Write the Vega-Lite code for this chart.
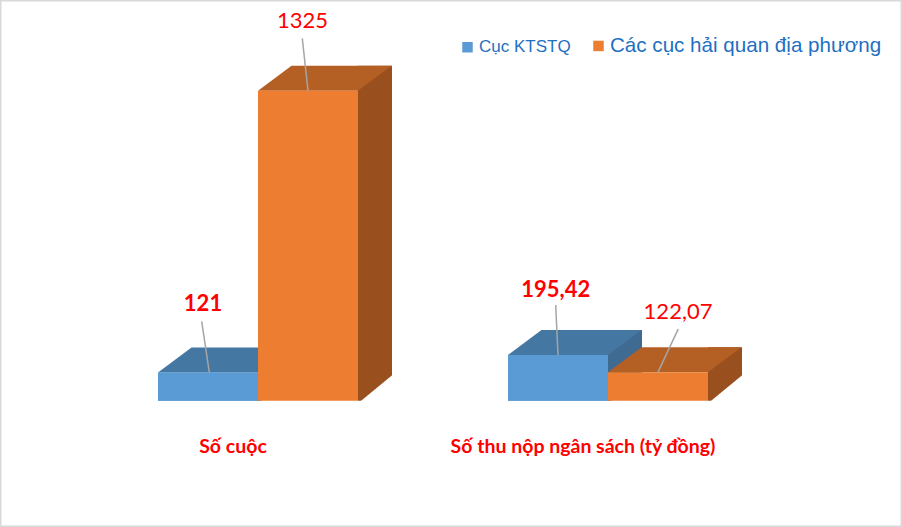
{
  "$schema": "https://vega.github.io/schema/vega-lite/v6.json",
  "width": 902,
  "height": 527,
  "autosize": "none",
  "padding": 0,
  "background": "white",
  "config": {
    "view": {"stroke": "#D9D9D9", "strokeWidth": 3},
    "font": "Lato"
  },
  "data": {
    "values": [
      {"category": "Số cuộc", "series": "Cục KTSTQ", "value": 121, "label": "121"},
      {"category": "Số cuộc", "series": "Các cục hải quan địa phương", "value": 1325, "label": "1325"},
      {"category": "Số thu nộp ngân sách (tỷ đồng)", "series": "Cục KTSTQ", "value": 195.42, "label": "195,42"},
      {"category": "Số thu nộp ngân sách (tỷ đồng)", "series": "Các cục hải quan địa phương", "value": 122.07, "label": "122,07"}
    ]
  },
  "encoding": {
    "x": {
      "field": "category", "type": "nominal", "sort": null,
      "scale": {"domain": ["Số cuộc", "Số thu nộp ngân sách (tỷ đồng)"], "paddingInner": 0.428571, "paddingOuter": 0.502857, "align": 0.44886},
      "axis": {"title": null, "orient": "bottom", "offset": -81, "domain": false, "ticks": false, "labelPadding": 0, "labelBaseline": "middle", "labelAngle": 0, "labelOffset": -25, "labelLimit": 500, "labelFont": "Lato", "labelFontSize": 19.5, "labelFontWeight": "bold", "labelColor": "#FF0000", "zindex": 1}
    },
    "xOffset": {
      "field": "series", "type": "nominal",
      "scale": {"type": "band", "domain": ["Cục KTSTQ", "Các cục hải quan địa phương"], "paddingInner": 0, "paddingOuter": 0}
    },
    "y": {
      "field": "value", "type": "quantitative",
      "scale": {"domain": [-539.8, 1712.7], "zero": false, "nice": false},
      "axis": null
    }
  },
  "resolve": {"scale": {"xOffset": "independent"}},
  "layer": [
    {
      "transform": [{"filter": "datum.series === 'Cục KTSTQ'"}],
      "mark": {"type": "bar", "width": 34, "yOffset": -25, "y2Offset": 0, "color": "#3F6A91"},
      "encoding": {
        "y2": {"datum": 0},
        "xOffset": {"field": "series", "type": "nominal", "scale": {"type": "band", "domain": ["Cục KTSTQ", "Các cục hải quan địa phương"], "range": [67, 267], "paddingInner": 0, "paddingOuter": 0}}
      }
    },
    {
      "transform": [{"filter": "datum.series === 'Cục KTSTQ'"}],
      "mark": {"type": "point", "shape": "M0.495,0.03 L0.87,0.03 L0.87,-0.27 L0.835,-0.25 Z", "size": 40000, "filled": true, "color": "white", "opacity": 1, "strokeWidth": 0},
      "encoding": {"y": {"datum": 0}}
    },
    {
      "transform": [{"filter": "datum.series === 'Cục KTSTQ'"}],
      "mark": {"type": "point", "shape": "M-0.5,0 L0.5,0 L0.835,-0.25 L-0.165,-0.25 Z", "size": 40000, "filled": true, "color": "#4577A3", "opacity": 1, "strokeWidth": 0}
    },
    {
      "transform": [{"filter": "datum.series === 'Cục KTSTQ'"}],
      "mark": {"type": "bar", "fill": "#5B9BD5"},
      "encoding": {"y2": {"datum": 0}}
    },
    {
      "transform": [{"filter": "datum.series === 'Các cục hải quan địa phương'"}],
      "mark": {"type": "bar", "width": 34, "yOffset": -25, "y2Offset": 0, "color": "#9A4F1E"},
      "encoding": {
        "y2": {"datum": 0},
        "xOffset": {"field": "series", "type": "nominal", "scale": {"type": "band", "domain": ["Cục KTSTQ", "Các cục hải quan địa phương"], "range": [67, 267], "paddingInner": 0, "paddingOuter": 0}}
      }
    },
    {
      "transform": [{"filter": "datum.series === 'Các cục hải quan địa phương'"}],
      "mark": {"type": "point", "shape": "M0.495,0.03 L0.87,0.03 L0.87,-0.27 L0.835,-0.25 Z", "size": 40000, "filled": true, "color": "white", "opacity": 1, "strokeWidth": 0},
      "encoding": {"y": {"datum": 0}}
    },
    {
      "transform": [{"filter": "datum.series === 'Các cục hải quan địa phương'"}],
      "mark": {"type": "point", "shape": "M-0.5,0 L0.5,0 L0.835,-0.25 L-0.165,-0.25 Z", "size": 40000, "filled": true, "color": "#B45F24", "opacity": 1, "strokeWidth": 0}
    },
    {
      "mark": {"type": "bar", "opacity": 1},
      "encoding": {
        "y2": {"datum": 0},
        "color": {
          "field": "series", "type": "nominal",
          "scale": {"domain": ["Cục KTSTQ", "Các cục hải quan địa phương"], "range": ["#5B9BD5", "#ED7D31"]},
          "legend": {
            "title": null, "orient": "none", "direction": "horizontal", "legendX": 462, "legendY": 40,
            "symbolType": "square", "symbolSize": 110, "symbolStrokeWidth": 0, "symbolOpacity": 1,
            "labelFont": "Liberation Sans", "labelColor": "#1F70C1", "labelFontSize": 17, "labelOffset": 6, "columnPadding": 22, "labelLimit": 500,
            "encode": {"labels": {"update": {"fontSize": [{"test": "datum.label === 'Cục KTSTQ'", "value": 17}, {"value": 20.6}]}}}
          }
        }
      }
    },
    {
      "transform": [{"filter": "datum.label === '121'"}],
      "mark": {"type": "point", "shape": "M-0.063,-0.51 L0.013,0", "size": 40000, "filled": false, "color": "#A5A5A5", "strokeWidth": 1.5, "opacity": 1}
    },
    {
      "transform": [{"filter": "datum.label === '1325'"}],
      "mark": {"type": "point", "shape": "M-0.057,-0.524 L0,0", "size": 40000, "filled": false, "color": "#A5A5A5", "strokeWidth": 1.5, "opacity": 1}
    },
    {
      "transform": [{"filter": "datum.label === '195,42'"}],
      "mark": {"type": "point", "shape": "M-0.023,-0.5 L0,0", "size": 40000, "filled": false, "color": "#A5A5A5", "strokeWidth": 1.5, "opacity": 1}
    },
    {
      "transform": [{"filter": "datum.label === '122,07'"}],
      "mark": {"type": "point", "shape": "M0.202,-0.43 L0,0", "size": 40000, "filled": false, "color": "#A5A5A5", "strokeWidth": 1.5, "opacity": 1}
    },
    {
      "transform": [{"filter": "datum.label === '121'"}],
      "mark": {"type": "text", "font": "Lato", "fontSize": 22, "fontWeight": "bold", "color": "#FF0000", "baseline": "alphabetic", "align": "center", "dx": -5, "dy": -61.7},
      "encoding": {"text": {"field": "label"}}
    },
    {
      "transform": [{"filter": "datum.label === '1325'"}],
      "mark": {"type": "text", "font": "Lato", "fontSize": 22, "fontWeight": "normal", "color": "#FF0000", "baseline": "alphabetic", "align": "center", "dx": -5.5, "dy": -62.4},
      "encoding": {"text": {"field": "label"}}
    },
    {
      "transform": [{"filter": "datum.label === '195,42'"}],
      "mark": {"type": "text", "font": "Lato", "fontSize": 22, "fontWeight": "bold", "color": "#FF0000", "baseline": "alphabetic", "align": "center", "dx": -2.3, "dy": -58.3},
      "encoding": {"text": {"field": "label"}}
    },
    {
      "transform": [{"filter": "datum.label === '122,07'"}],
      "mark": {"type": "text", "font": "Lato", "fontSize": 22, "fontWeight": "normal", "color": "#FF0000", "baseline": "alphabetic", "align": "center", "dx": 20, "dy": -53.3},
      "encoding": {"text": {"field": "label"}}
    }
  ]
}
